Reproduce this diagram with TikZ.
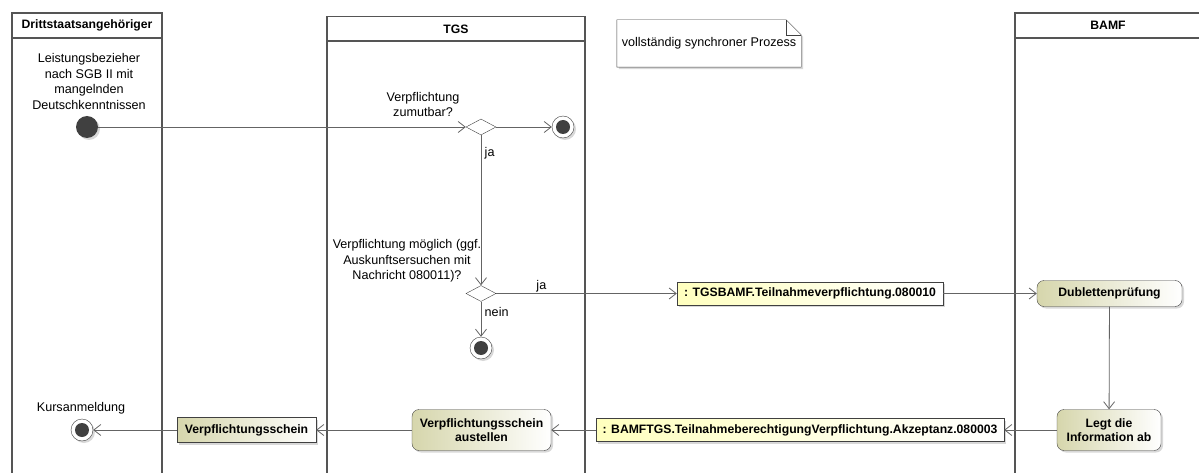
\documentclass[tikz,border=0pt]{standalone}
\usepackage{fontspec}
\setmainfont{Liberation Sans}
\usetikzlibrary{arrows.meta,positioning,shapes.geometric,shadows,backgrounds}
\definecolor{lanegray}{RGB}{85,85,85}
\definecolor{linegray}{RGB}{100,100,100}
\definecolor{actfill}{RGB}{214,214,172}
\definecolor{objfill}{RGB}{255,255,190}
\definecolor{dotfill}{RGB}{64,64,64}

\begin{document}
\begin{tikzpicture}[x=1pt,y=-1pt,
    font=\fontsize{12.6}{15.6}\selectfont,
    >={Straight Barb[length=7pt,width=11pt]},
    lane/.style={draw=lanegray,line width=1.6pt},
    head/.style={font=\fontsize{12.2}{15}\selectfont\bfseries},
    flow/.style={->,draw=linegray,line width=0.8pt},
    shadowed/.style={drop shadow={shadow xshift=2pt,shadow yshift=-2pt,fill=black!30}},
    action/.style={draw=black!75,rounded corners=7pt,left color=actfill,right color=white,
      font=\fontsize{12.2}{14.5}\selectfont\bfseries,align=center,inner sep=2pt,shadowed},
    object/.style={draw=black!75,left color=objfill,right color=white,
      font=\fontsize{12.2}{14.5}\selectfont\bfseries,minimum height=23pt,inner sep=2pt,shadowed},
    startnode/.style={circle,fill=dotfill,minimum size=22pt,inner sep=0pt,shadowed},
    endnode/.style={circle,draw=black!75,fill=white,minimum size=22pt,inner sep=0pt,shadowed,
      path picture={\fill[dotfill] (path picture bounding box.center) circle (7pt);}},
    decision/.style={diamond,draw=black!75,fill=white,minimum width=30pt,minimum height=16pt,inner sep=0pt},
    lbl/.style={align=center,inner sep=1pt}]
  \useasboundingbox (0,0) rectangle (1199,473);

  % swimlanes
  \draw[lane] (12,473) |- (162,13) -- (162,473);
  \draw[lane] (12,38) -- (162,38);
  \node[head] (lane1) at (87,25.5) {Drittstaatsangehöriger};
  \draw[lane] (327,473) |- (585,16.5) -- (585,473);
  \draw[lane] (327,41) -- (585,41);
  \node[head] (lane2) at (456,29) {TGS};
  \draw[lane] (1015,473) |- (1199,13);
  \draw[lane] (1015,38) -- (1199,38);
  \node[head] (lane3) at (1108,25.5) {BAMF};

  % note
  \node[align=left,minimum width=184pt,minimum height=47pt,inner sep=3pt] (note) at (709,43.5) {vollständig synchroner Prozess};
  \begin{scope}[on background layer]
    \draw[black!75,fill=white,shadowed] (note.south west) |- ([xshift=-15pt]note.north east)
      -- ([yshift=-15pt]note.north east) |- cycle;
  \end{scope}
  \draw[black!75] ([xshift=-15pt]note.north east) |- ([yshift=-15pt]note.north east);

  \node[startnode] (init) at (87,127) {};
  \node[lbl] (initlbl) at (89,81.5) {Leistungsbezieher\\nach SGB II mit\\mangelnden\\Deutschkenntnissen};
  \node[decision] (dec1) at (481,127) {};
  \node[lbl] (dec1lbl) at (423,104.5) {Verpflichtung\\zumutbar?};
  \node[endnode] (fin1) at (563,127) {};
  \node[decision] (dec2) at (481,293.5) {};
  \node[lbl] (dec2lbl) at (407,261) {Verpflichtung möglich (ggf.\\Auskunftsersuchen mit\\Nachricht 080011)?};
  \node[endnode] (fin2) at (481,348) {};
  \node[object,minimum width=266pt] (msg1) at (810,293.5) {: TGSBAMF.Teilnahmeverpflichtung.080010};
  \node[action,minimum width=145pt,minimum height=26pt] (dub) at (1109.5,293.5) {Dublettenprüfung};
  \node[action,minimum width=104pt,minimum height=41pt] (legt) at (1109,430) {Legt die\\Information ab};
  \node[object,minimum width=408pt] (msg2) at (800,430) {: BAMFTGS.TeilnahmeberechtigungVerpflichtung.Akzeptanz.080003};
  \node[action,minimum width=139pt,minimum height=41pt] (aus) at (481.5,430) {Verpflichtungsschein\\austellen};
  \node[object,left color=actfill,minimum width=139pt,minimum height=25pt] (vs) at (246.5,430) {Verpflichtungsschein};
  \node[endnode] (fin3) at (82,430) {};
  \node[lbl] (fin3lbl) at (81,408) {Kursanmeldung};

  \draw[flow] (init) -- (dec1);
  \draw[flow] (dec1) -- (fin1);
  \draw[flow] (dec1) -- node[pos=0.12,right] {ja} (dec2);
  \draw[flow] (dec2) -- node[pos=0.25,above,inner sep=1pt] {ja} (msg1);
  \draw[flow] (dec2) -- node[pos=0.3,right] {nein} (fin2);
  \draw[flow] (msg1) -- (dub);
  \draw[flow] (dub) -- (legt);
  \draw[flow] (legt) -- (msg2);
  \draw[flow] (msg2) -- (aus);
  \draw[flow] (aus) -- (vs);
  \draw[flow] (vs) -- (fin3);
\end{tikzpicture}
\end{document}
